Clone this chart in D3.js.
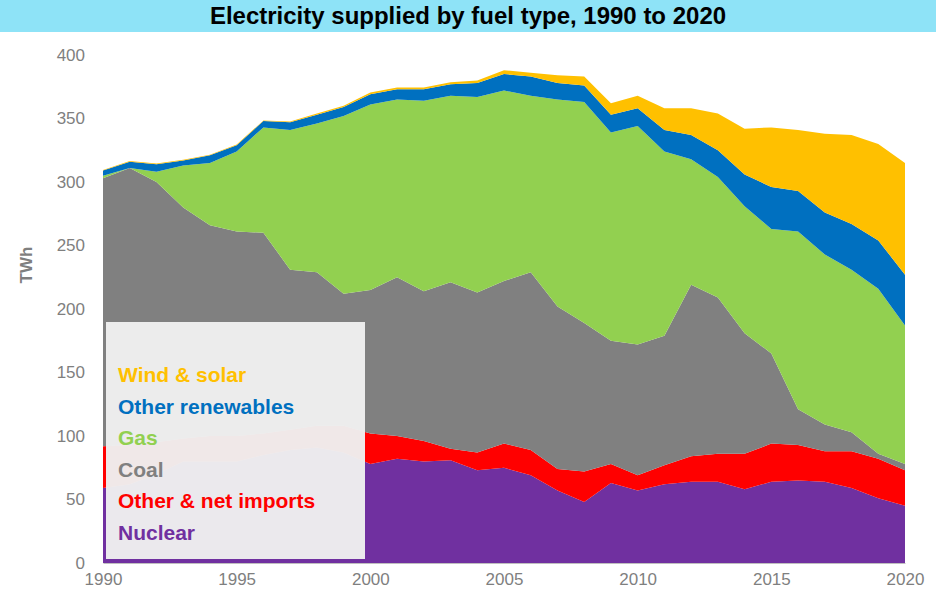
<!DOCTYPE html>
<html><head><meta charset="utf-8">
<script src="https://cdn.jsdelivr.net/npm/d3@7"></script>
<style>body{margin:0;background:#fff;font-family:Arial,"Liberation Sans",sans-serif}</style>
</head><body>
<svg id="chart" width="936" height="603"></svg>
<script>
const years = d3.range(1990, 2021)
const nuclear = [59,62,70,80,80,80,85,89,91,87,78,82,80,81,73,75,69,57,48,63,57,62,64,64,58,64,65,64,59,51,45]
const otherImports = [33,31,25,18,20,20,17,16,17,21,24,18,16,9,14,19,20,17,24,15,12,15,20,22,28,30,28,24,29,31,28]
const coal = [211,218,205,182,166,161,158,126,121,104,113,125,118,131,126,128,140,128,117,97,103,102,135,123,95,71,28,21,15,4,5]
const gas = [2,0,8,33,49,63,83,110,117,140,146,140,150,147,154,150,139,163,174,164,172,145,99,95,100,98,140,134,128,130,109]
const otherRenew = [4,5,6,4,6,5,5,6,7,7,8,8,9,9,11,13,15,13,13,14,14,17,19,21,25,33,32,33,36,38,40]
const windSolar = [0.5,0.5,0.5,0.5,0.5,0.5,0.5,0.7,0.9,1,1.5,1.5,1.5,1.5,2,3,3,6,7,9,10,17,21,29,36,47,48,62,70,76,88]
const keys = ['nuclear','otherImports','coal','gas','otherRenew','windSolar']
const labels = ['Nuclear','Other & net imports','Coal','Gas','Other renewables','Wind & solar']
const colors = ['#7030a0','#ff0000','#808080','#92d050','#0070c0','#ffc000']
const series = {nuclear, otherImports, coal, gas, otherRenew, windSolar}

const rows = years.map((y, i) => {
    const r = {year: y}
    keys.forEach(k => r[k] = series[k][i])
    return r
})

const svg = d3.select('#chart')
svg.append('rect').attr('x', 0).attr('y', 0).attr('width', 936).attr('height', 32).attr('fill', '#8ee3f7')
svg.append('text').attr('x', 468).attr('y', 24).attr('text-anchor', 'middle')
    .attr('font-size', 24).attr('font-weight', 'bold').text('Electricity supplied by fuel type, 1990 to 2020')

const x = d3.scaleLinear().domain([1990, 2020]).range([103, 905])
const y = d3.scaleLinear().domain([0, 400]).range([563, 55])

const stack = d3.stack().keys(keys)(rows)
const area = d3.area().x(d => x(d.data.year)).y0(d => y(d[0])).y1(d => y(d[1]))
svg.selectAll('path.layer').data(stack).enter().append('path')
    .attr('class', 'layer').attr('d', area).attr('fill', (d, i) => colors[i])

const xAxis = svg.append('g').attr('transform', 'translate(0,563)')
    .call(d3.axisBottom(x).tickValues(d3.range(1990, 2021, 5)).tickFormat(d3.format('d')).tickSize(0).tickPadding(10))
const yAxis = svg.append('g').attr('transform', 'translate(103,0)')
    .call(d3.axisLeft(y).tickValues(d3.range(0, 401, 50)).tickSize(0).tickPadding(18))
;[xAxis, yAxis].forEach(a => {
    a.selectAll('text').attr('fill', '#7f7f7f').attr('font-size', 17).attr('font-family', 'Arial,"Liberation Sans",sans-serif')
})
yAxis.select('.domain').remove()
xAxis.select('.domain').attr('stroke', '#bfbfbf')

svg.append('text').attr('transform', 'translate(32,265) rotate(-90)').attr('text-anchor', 'middle')
    .attr('fill', '#7f7f7f').attr('font-size', 17).attr('font-weight', 'bold').text('TWh')

// legend
svg.append('rect').attr('x', 106).attr('y', 322).attr('width', 259).attr('height', 237)
    .attr('fill', '#efefef').attr('fill-opacity', 0.97)
labels.slice().reverse().forEach((l, i) => {
    svg.append('text').attr('x', 118).attr('y', 382 + i * 31.5)
        .attr('font-size', 21).attr('font-weight', 'bold')
        .attr('fill', colors[colors.length - 1 - i]).text(l)
})
</script>
</body></html>
